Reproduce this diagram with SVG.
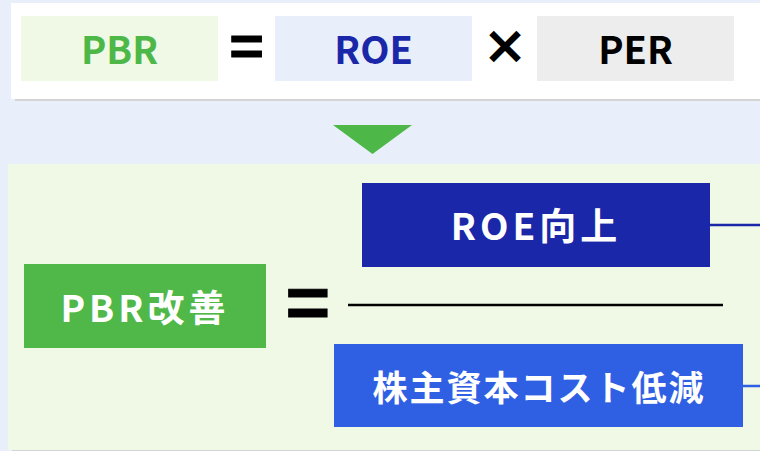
<svg xmlns="http://www.w3.org/2000/svg" width="760" height="451" viewBox="0 0 760 451">
<defs>
<style>
.t{font-family:"Noto Sans CJK JP","Noto Sans",sans-serif;font-weight:700;text-anchor:middle}
.w{fill:#ffffff}
.op{fill:#000;stroke:#000}
</style>
</defs>
<rect x="0" y="0" width="760" height="451" fill="#E8EFFA"/>
<g id="top-panel">
<rect x="15" y="7" width="745" height="94" fill="#D4D4D4"/>
<rect x="11" y="3" width="749" height="96" fill="#ffffff"/>
</g>
<g id="pbr">
<rect x="21" y="16" width="197" height="65" fill="#F0F9E6"/>
<text class="t" x="119.5" y="64" font-size="38" fill="#4DB848">PBR</text>
</g>
<g id="eq1"><text class="t op" x="246.5" y="68" font-size="58" stroke-width="1">=</text></g>
<g id="roe">
<rect x="275" y="16" width="197" height="65" fill="#E8EEFA"/>
<text class="t" x="373.5" y="64" font-size="38" fill="#1A27A8">ROE</text>
</g>
<g id="times"><text class="t op" x="505" y="63" font-size="44" stroke-width="1.8">×</text></g>
<g id="per">
<rect x="537" y="16" width="197" height="65" fill="#EDEDED"/>
<text class="t" x="635.5" y="64" font-size="38" fill="#000">PER</text>
</g>
<g id="arrow"><polygon points="333,125 412,125 372.5,154" fill="#4DB848"/></g>
<g id="bottom-panel">
<rect x="12" y="168" width="748" height="290" fill="#D4D4D4"/>
<rect x="8" y="164" width="752" height="286" fill="#F0F9E6"/>
</g>
<g id="connectors">
<line x1="348" y1="305" x2="723" y2="305" stroke="#000" stroke-width="2.5"/>
<line x1="710" y1="225" x2="760" y2="225" stroke="#1A27A8" stroke-width="2.5"/>
<line x1="743" y1="386" x2="760" y2="386" stroke="#2F5FE3" stroke-width="2.5"/>
</g>
<g id="pbr-kaizen">
<rect x="24" y="264" width="242" height="84" fill="#50B848"/>
<text class="t w" x="145" y="322" font-size="37" letter-spacing="4">PBR改善</text>
</g>
<g id="eq2"><text class="t op" x="308" y="331" font-size="75" stroke-width="1">=</text></g>
<g id="roe-up">
<rect x="362" y="183" width="348" height="84" fill="#1A27A8"/>
<text class="t w" x="536" y="240" font-size="37" letter-spacing="4">ROE向上</text>
</g>
<g id="coe-down">
<rect x="334" y="344" width="409" height="83" fill="#2F5FE3"/>
<text class="t w" x="539" y="401" font-size="35" letter-spacing="2">株主資本コスト低減</text>
</g>
</svg>
